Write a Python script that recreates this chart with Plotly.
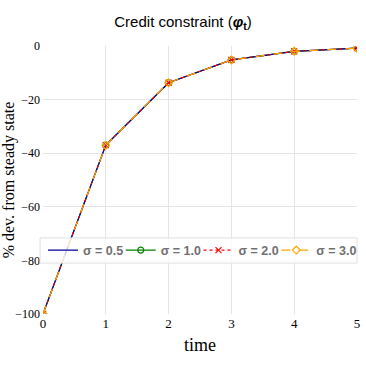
import plotly.graph_objects as go

# Impulse response of the credit constraint for several values of sigma
time = [0, 1, 2, 3, 4, 5]
sigma_labels = ["σ = 0.5", "σ = 1.0", "σ = 2.0", "σ = 3.0"]
phi_05 = [-100, -37.0, -13.7, -5.2, -2.0, -0.8]
phi_10 = [-100, -37.0, -13.7, -5.2, -2.0, -0.8]
phi_20 = [-100, -37.0, -13.7, -5.2, -2.0, -0.8]
phi_30 = [-100, -37.0, -13.7, -5.2, -2.0, -0.8]

series = [phi_05, phi_10, phi_20, phi_30]
colors = ["#0000a0", "#008000", "#ff0000", "#ffa500"]
dashes = ["solid", "solid", "dot", "dash"]
symbols = [None, "circle-open", "x-thin", "diamond-open"]
legend_ids = ["legend", "legend2", "legend3", "legend4"]
# green is painted first so the blue line shows through the orange dashes
draw_order = [1, 0, 2, 3]

fig = go.Figure()
for i in draw_order:
    name, ys, c, d, s = sigma_labels[i], series[i], colors[i], dashes[i], symbols[i]
    common = dict(x=time, y=ys, name=name, legend=legend_ids[i], showlegend=True,
                  line=dict(color=c, width=1.2, dash=d))
    if s is None:
        fig.add_trace(go.Scatter(mode="lines", **common))
    else:
        fig.add_trace(go.Scatter(mode="lines+markers",
                                 marker=dict(symbol=s, size=6, color=c,
                                             line=dict(color=c, width=1.2)),
                                 **common))

serif = "Liberation Serif, Times New Roman, serif"
legend_font = dict(family="Liberation Sans, Arial, sans-serif", size=12.5,
                   color="#707070", weight="bold")

# one row of legend entries, each in its own legend box
plot_left, plot_w = 43, 319
entry_px = [43, 122, 201, 280]
legend_cfg = {}
for lid, px in zip(legend_ids, entry_px):
    legend_cfg[lid] = dict(orientation="h", x=(px - plot_left) / plot_w, xanchor="left",
                           y=0.237, yanchor="middle", bgcolor="rgba(0,0,0,0)",
                           borderwidth=0, itemwidth=30, font=legend_font)

fig.update_layout(
    width=366, height=365,
    showlegend=True,
    margin=dict(l=43, r=4, t=46, b=51),
    paper_bgcolor="white", plot_bgcolor="white",
    title=dict(text="Credit constraint (<b><i>φ</i><sub>t</sub></b>)",
               x=0.5, xanchor="center", y=0.94, yanchor="middle",
               font=dict(family="Liberation Sans, Arial, sans-serif", size=15, color="black")),
    xaxis=dict(range=[0, 5], dtick=1, showgrid=True, gridcolor="#e5e5e5",
               zeroline=False, showline=False, ticks="", automargin=False,
               tickfont=dict(family=serif, size=13, color="black"),
               title=dict(text="time", font=dict(family=serif, size=18, color="black"),
                          standoff=8)),
    yaxis=dict(range=[-100, 0], dtick=20, showgrid=True, gridcolor="#e5e5e5",
               zeroline=False, showline=False, ticks="", automargin=False,
               ticklabelstandoff=2,
               tickfont=dict(family=serif, size=12, color="black"),
               title=dict(text="% dev. from steady state",
                          font=dict(family=serif, size=16, color="black"), standoff=0)),
    **legend_cfg,
)

# shared frame behind the legend row
fig.add_shape(type="rect", xref="paper", yref="paper",
              x0=(40 - plot_left) / plot_w, x1=1.0, y0=0.19, y1=0.284,
              fillcolor="rgba(255,255,255,0.8)", line=dict(color="#e0e0e0", width=1),
              layer="above")

fig.write_html("out.html")
